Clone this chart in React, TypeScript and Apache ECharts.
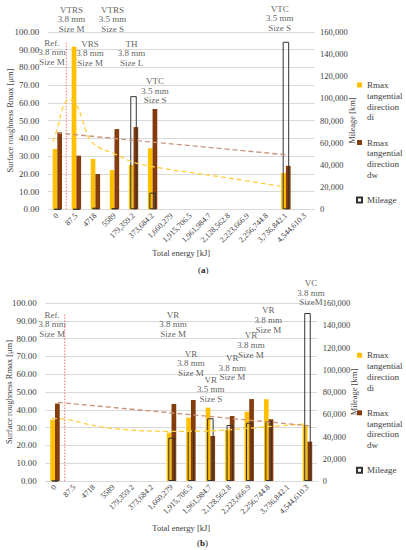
import React, { useEffect, useRef } from "react";
import * as echarts from "echarts";

const categories = ["0", "87.5", "4718", "5589", "179,359.2", "373,684.2", "1,660,279", "1,915,706.5", "1,961,984.7", "2,128,562.8", "2,223,666.9", "2,256,744.8", "3,736,842.1", "4,544,610.3"];

const diA = [34, 91.6, 28.3, 22.1, 25, 34.4, null, null, null, null, null, null, 20.5, null];
const dwA = [43.4, 30.2, 19.9, 45.2, 46.3, 56.5, null, null, null, null, null, null, 24.5, null];
const mileageA = [0, 0, 1500, 1000, 102000, 15000, null, null, null, null, null, null, 151000, null];

const diB = [34.4, null, null, null, null, null, 27.2, 35.6, 41.2, 29, 38.9, 45.9, null, 31.5];
const dwB = [43.5, null, null, null, null, null, 43.3, 45.5, 25.3, 36.5, 46, 34.7, null, 22.1];
const mileageB = [0, null, null, null, null, null, 39000, 45000, 56400, 50300, 52400, 53900, null, 151000];

// trendlines: [category position, value]
const trendDiA = [[-0.23, 38], [0.04, 47], [0.25, 56], [0.46, 61], [0.67, 62], [0.88, 60], [1.09, 57], [1.3, 51], [1.51, 44], [1.72, 39], [2.24, 34.5], [2.92, 31.7], [3.97, 26.6], [5.39, 23.3], [6.8, 21], [9.07, 17.5], [11.69, 13]];
const trendDwA = [[0, 43], [12, 30.7]];
const trendDiB = [[-0.15, 35.2], [0.77, 34.3], [1.44, 32.5], [2.32, 30.5], [3.71, 28.8], [5.77, 27.9], [7.47, 28], [8.86, 28.7], [10.92, 30.5], [12.87, 32]];
const trendDwB = [[0.15, 44.2], [13.1, 31]];
const refLineA = [[0.47, 0], [0.47, 94]];
const refLineB = [[0.5, 0], [0.5, 94]];

const notesA = [
  { pos: [-0.28, 88.4], text: "Ref.\n3.8 mm\nSize M" },
  { pos: [0.75, 107], text: "VTRS\n3.8 mm\nSize M" },
  { pos: [2.9, 107], text: "VTRS\n3.5 mm\nSize S" },
  { pos: [1.72, 87.9], text: "VRS\n3.8 mm\nSize M" },
  { pos: [3.9, 87.9], text: "TH\n3.8 mm\nSize L" },
  { pos: [5.13, 66.8], text: "VTC\n3.5 mm\nSize S" },
  { pos: [11.67, 107.6], text: "VTC\n3.5 mm\nSize S" },
];
const notesB = [
  { pos: [-0.15, 88], text: "Ref.\n3.8 mm\nSize M" },
  { pos: [6.08, 88], text: "VR\n3.8 mm\nSize M" },
  { pos: [7.0, 66.1], text: "VR\n3.8 mm\nSize M" },
  { pos: [8.02, 51.5], text: "VR\n3.5 mm\nSize S" },
  { pos: [9.13, 63.7], text: "VR\n3.8 mm\nSize M" },
  { pos: [10.09, 76.4], text: "VR\n3.8 mm\nSize M" },
  { pos: [10.98, 90.4], text: "VR\n3.8 mm\nSize M" },
  { pos: [13.18, 105.8], text: "VC\n3.8 mm\nSizeM" },
];

const NAME_DI = "Rmax tangential direction di";
const NAME_DW = "Rmax tangential direction dw";
const NAME_MI = "Mileage";

const FONT = "Liberation Serif";
const YELLOW = "#FFC000";
const BROWN = "#843C0C";
const GRID = "#D9D9D9";
const TXT = "#404040";

function fmtThousands(v: number) {
  return String(Math.round(v)).replace(/\B(?=(\d{3})+(?!\d))/g, ",");
}

function axesFor(g: number, xNameGap: number, yNameGap: number, rNameGap: number) {
  const xAxes = [
    {
      type: "category", gridIndex: g, data: categories,
      axisLine: { lineStyle: { color: GRID } }, axisTick: { show: false },
      axisLabel: { rotate: 45, interval: 0, fontSize: 8, color: TXT, fontFamily: FONT, margin: 5 },
      name: "Total energy [kJ]", nameLocation: "middle", nameGap: xNameGap, nameMoveOverlap: false,
      nameTextStyle: { fontSize: 8.5, color: TXT, fontFamily: FONT },
    },
    { type: "category", gridIndex: g, data: categories, show: false },
    { type: "value", gridIndex: g, min: -0.5, max: 13.5, show: false },
  ];
  const yAxes = [
    {
      type: "value", gridIndex: g, position: "left", min: 0, max: 100, interval: 10,
      axisLine: { show: false }, axisTick: { show: false },
      axisLabel: { formatter: (v: number) => v.toFixed(2), fontSize: 9, color: TXT, fontFamily: FONT, margin: 8.5 },
      splitLine: { lineStyle: { color: GRID } },
      name: "Surface roughness Rmax [μm]", nameLocation: "middle", nameGap: yNameGap, nameMoveOverlap: false,
      nameTextStyle: { fontSize: 8.5, color: TXT, fontFamily: FONT },
    },
    {
      type: "value", gridIndex: g, position: "right", min: 0, max: 160000, interval: 20000,
      axisLine: { show: false }, axisTick: { show: false }, splitLine: { show: false },
      axisLabel: { formatter: fmtThousands, fontSize: 8.5, color: TXT, fontFamily: FONT, margin: 5.5 },
      name: "Mileage [km]", nameLocation: "middle", nameGap: rNameGap, nameMoveOverlap: false,
      nameTextStyle: { fontSize: 8.5, color: TXT, fontFamily: FONT },
    },
  ];
  return { xAxes, yAxes };
}

function seriesFor(g: number, di: any[], dw: any[], mi: any[], tDi: number[][], tDw: number[][], ref: number[][], notes: any[]) {
  const xb = g * 3;
  const yb = g * 2;
  return [
    { type: "bar", name: NAME_DI, xAxisIndex: xb, yAxisIndex: yb, data: di, barWidth: 4.7, barGap: "0%", itemStyle: { color: YELLOW } },
    { type: "bar", name: NAME_DW, xAxisIndex: xb, yAxisIndex: yb, data: dw, barWidth: 4.7, barGap: "0%", itemStyle: { color: BROWN } },
    { type: "bar", name: NAME_MI, xAxisIndex: xb + 1, yAxisIndex: yb + 1, data: mi, barWidth: 6.5, itemStyle: { color: "rgba(255,255,255,0)", borderColor: "#333333", borderWidth: 1 } },
    { type: "line", name: "refline", xAxisIndex: xb + 2, yAxisIndex: yb, data: ref, symbol: "none", lineStyle: { color: "#FF7070", width: 1, type: [1.5, 1.5] } },
    { type: "line", name: "trend di", xAxisIndex: xb + 2, yAxisIndex: yb, data: tDi, smooth: 0.4, symbol: "none", lineStyle: { color: "#FFCF40", width: 1.3, type: [5, 3] } },
    { type: "line", name: "trend dw", xAxisIndex: xb + 2, yAxisIndex: yb, data: tDw, symbol: "none", lineStyle: { color: "#C8957A", width: 1.3, type: [5, 3] } },
    {
      type: "scatter", name: "notes", xAxisIndex: xb + 2, yAxisIndex: yb, clip: false, symbolSize: 1,
      itemStyle: { color: "rgba(0,0,0,0)" },
      data: notes.map((n) => ({ value: n.pos, name: n.text })),
      label: { show: true, position: "inside", formatter: "{b}", fontSize: 9, lineHeight: 9.6, color: "#333333", fontFamily: FONT, align: "center" },
    },
  ];
}

function legendFor(top: number) {
  return {
    orient: "vertical", left: 356, top, padding: 0, itemGap: -18.1,
    itemWidth: 5, itemHeight: 5, icon: "rect", selectedMode: false,
    textStyle: { fontSize: 9, color: TXT, fontFamily: FONT, lineHeight: 10.8 },
    formatter: (name: string) => name === NAME_MI ? NAME_MI : "\n\n\n" + name.replace("Rmax tangential direction ", "Rmax\ntangential\ndirection\n"),
    data: [
      { name: NAME_DI },
      { name: NAME_DW },
      { name: NAME_MI, textStyle: { lineHeight: 75.6 } },
    ],
  };
}

export default function App() {
  const ref = useRef<HTMLDivElement>(null);
  useEffect(() => {
    if (!ref.current) return;
    const chart = echarts.init(ref.current, null, { renderer: "svg" });
    const a = axesFor(0, 39.5, 33.3, 32.7);
    const b = axesFor(1, 42.4, 31.6, 32.1);
    chart.setOption({
      animation: false,
      backgroundColor: "#ffffff",
      textStyle: { fontFamily: FONT },
      grid: [
        { left: 47.8, top: 31.8, width: 266.7, height: 177.5, outerBoundsMode: "none", containLabel: false },
        { left: 45.3, top: 303, width: 271.9, height: 178, outerBoundsMode: "none", containLabel: false },
      ],
      xAxis: [...a.xAxes, ...b.xAxes],
      yAxis: [...a.yAxes, ...b.yAxes],
      legend: [legendFor(85 - 37.8), legendFor(355.3 - 37.8)],
      series: [
        ...seriesFor(0, diA, dwA, mileageA, trendDiA, trendDwA, refLineA, notesA),
        ...seriesFor(1, diB, dwB, mileageB, trendDiB, trendDwB, refLineB, notesB),
      ],
      graphic: [
        { type: "text", left: 198, top: 265, style: { text: "({b|a})", fontSize: 9, fill: "#222", fontFamily: FONT, rich: { b: { fontWeight: "bold", fontSize: 9, fontFamily: FONT } } } },
        { type: "text", left: 197, top: 538, style: { text: "({b|b})", fontSize: 9, fill: "#222", fontFamily: FONT, rich: { b: { fontWeight: "bold", fontSize: 9, fontFamily: FONT } } } },
      ],
    });
    return () => chart.dispose();
  }, []);
  return <div ref={ref} style={{ position: "absolute", left: 0, top: 0, width: 406, height: 550, background: "#fff" }} />;
}
